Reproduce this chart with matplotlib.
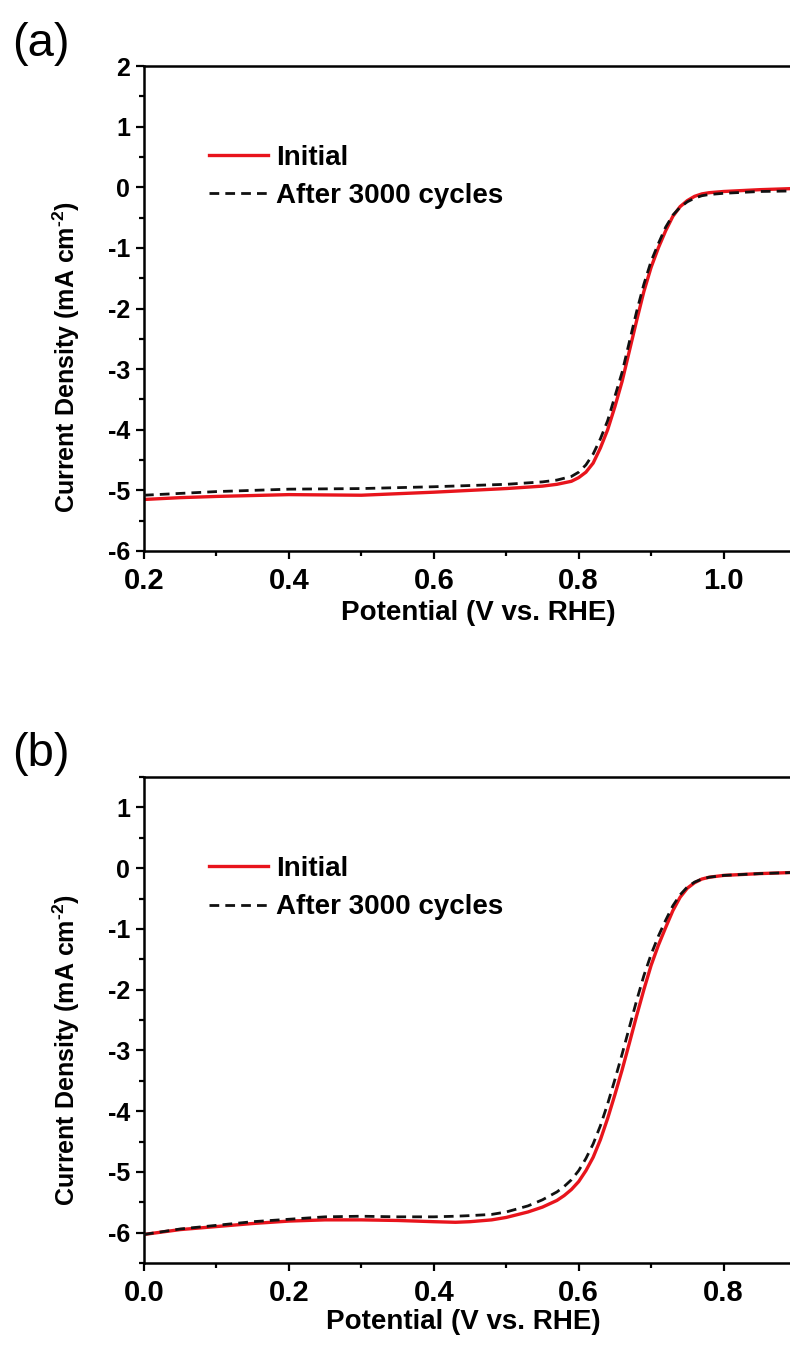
import numpy as np
import matplotlib
matplotlib.use('Agg')
import matplotlib.pyplot as plt
from matplotlib.ticker import MultipleLocator, FormatStrFormatter

plt.rcParams['font.family'] = ['Liberation Sans', 'DejaVu Sans']
plt.rcParams['font.weight'] = 'bold'
plt.rcParams['axes.unicode_minus'] = False
plt.rcParams['mathtext.fontset'] = 'custom'
plt.rcParams['mathtext.rm'] = 'Liberation Sans:bold'
plt.rcParams['mathtext.bf'] = 'Liberation Sans:bold'

# (a) potential (V vs. RHE) and current density (mA cm-2)
a_pot_init = [0.20, 0.25, 0.30, 0.40, 0.50, 0.60, 0.70, 0.75, 0.77, 0.79, 0.80, 0.81, 0.82,
              0.83, 0.84, 0.85, 0.86, 0.87, 0.88, 0.89, 0.90, 0.91, 0.92, 0.93, 0.94,
              0.95, 0.96, 0.97, 0.98, 1.00, 1.05, 1.10]
a_cur_init = [-5.15, -5.12, -5.10, -5.07, -5.08, -5.03, -4.97, -4.93, -4.90, -4.85, -4.79, -4.70, -4.55,
              -4.30, -4.00, -3.62, -3.20, -2.70, -2.20, -1.72, -1.32, -1.00, -0.72, -0.48, -0.32,
              -0.22, -0.15, -0.11, -0.09, -0.07, -0.04, -0.02]
a_pot_after = [0.20, 0.25, 0.30, 0.40, 0.50, 0.60, 0.70, 0.75, 0.77, 0.79, 0.80, 0.81, 0.82,
               0.83, 0.84, 0.85, 0.86, 0.87, 0.88, 0.89, 0.90, 0.91, 0.92, 0.93, 0.94,
               0.95, 0.96, 0.97, 0.98, 1.00, 1.05, 1.10]
a_cur_after = [-5.08, -5.05, -5.02, -4.98, -4.97, -4.94, -4.90, -4.86, -4.83, -4.77, -4.70, -4.58, -4.40,
               -4.15, -3.85, -3.45, -3.05, -2.55, -2.05, -1.60, -1.22, -0.93, -0.66, -0.46, -0.33,
               -0.24, -0.18, -0.14, -0.12, -0.10, -0.07, -0.06]

# (b)
b_pot_init = [0.00, 0.05, 0.10, 0.15, 0.20, 0.25, 0.30, 0.35, 0.40, 0.43, 0.45, 0.48, 0.50,
              0.53, 0.55, 0.57, 0.58, 0.59, 0.60, 0.61, 0.62, 0.63, 0.64, 0.65, 0.66, 0.67,
              0.68, 0.69, 0.70, 0.71, 0.72, 0.73, 0.74, 0.75, 0.76, 0.77, 0.78, 0.80, 0.85, 0.90]
b_cur_init = [-6.03, -5.95, -5.90, -5.85, -5.81, -5.79, -5.79, -5.80, -5.82, -5.83, -5.82, -5.79, -5.75,
              -5.66, -5.58, -5.47, -5.39, -5.29, -5.16, -4.98, -4.76, -4.47, -4.12, -3.73, -3.32, -2.88,
              -2.43, -2.00, -1.60, -1.27, -0.98, -0.70, -0.48, -0.33, -0.24, -0.18, -0.15, -0.12, -0.09, -0.07]
b_pot_after = [0.00, 0.05, 0.10, 0.15, 0.20, 0.25, 0.30, 0.35, 0.40, 0.43, 0.45, 0.48, 0.50,
               0.53, 0.55, 0.57, 0.58, 0.59, 0.60, 0.61, 0.62, 0.63, 0.64, 0.65, 0.66, 0.67,
               0.68, 0.69, 0.70, 0.71, 0.72, 0.73, 0.74, 0.75, 0.76, 0.77, 0.78, 0.80, 0.85, 0.90]
b_cur_after = [-6.03, -5.94, -5.88, -5.82, -5.78, -5.74, -5.73, -5.74, -5.74, -5.73, -5.72, -5.70, -5.66,
               -5.56, -5.46, -5.33, -5.24, -5.13, -4.98, -4.78, -4.54, -4.24, -3.88, -3.48, -3.06, -2.62,
               -2.18, -1.77, -1.42, -1.12, -0.86, -0.62, -0.44, -0.31, -0.23, -0.18, -0.15, -0.12, -0.09, -0.07]

labels = ['Initial', 'After 3000 cycles']

fig = plt.figure(figsize=(7.9, 13.58), dpi=100)

W, H = 790.0, 1358.0
panels = [
    dict(box=(144, 66, 796, 551), xlim=(0.2, 1.1), ylim=(-6, 2), tag='(a)', tag_y=22,
         init=(a_pot_init, a_cur_init), after=(a_pot_after, a_cur_after),
         ylab_y=0.40, xlab_x=0.512, xlab_y=-0.102),
    dict(box=(144, 777, 796, 1263), xlim=(0.0, 0.9), ylim=(-6.5, 1.5), tag='(b)', tag_y=732,
         init=(b_pot_init, b_cur_init), after=(b_pot_after, b_cur_after),
         ylab_y=0.438, xlab_x=0.49, xlab_y=-0.095),
]

for p in panels:
    l, t, r, b = p['box']
    ax = fig.add_axes([l / W, 1 - b / H, (r - l) / W, (b - t) / H])
    ax.plot(*p['init'], color='#e8141c', lw=2.4, label=labels[0], zorder=2)
    ax.plot(*p['after'], color='#111111', lw=2.0, ls=(0, (3.5, 2.2)), label=labels[1], zorder=3)
    ax.set_xlim(*p['xlim'])
    ax.set_ylim(*p['ylim'])
    ax.xaxis.set_major_locator(MultipleLocator(0.2))
    ax.xaxis.set_minor_locator(MultipleLocator(0.1))
    ax.xaxis.set_major_formatter(FormatStrFormatter('%.1f'))
    ax.yaxis.set_major_locator(MultipleLocator(1))
    ax.yaxis.set_minor_locator(MultipleLocator(0.5))
    for s in ax.spines.values():
        s.set_linewidth(1.8)
    ax.tick_params(which='major', direction='out', length=6, width=1.6)
    ax.tick_params(which='minor', direction='out', length=3.5, width=1.6)
    ax.tick_params(axis='x', labelsize=21, pad=5.5)
    ax.tick_params(axis='y', labelsize=18, pad=4)
    ax.set_xlabel('Potential (V vs. RHE)', fontsize=20, fontweight='bold')
    ax.set_ylabel('Current Density (mA cm$^{\\text{-2}}$)', fontsize=18, fontweight='bold')
    ax.yaxis.set_label_coords(-0.095, p['ylab_y'])
    ax.xaxis.set_label_coords(p['xlab_x'], p['xlab_y'])
    ax.legend(loc='upper left', bbox_to_anchor=(0.1, 0.838), frameon=False, fontsize=20,
              handlelength=2.1, handletextpad=0.3, labelspacing=0.45, borderpad=0,
              borderaxespad=0)
    fig.text(12 / W, 1 - p['tag_y'] / H, p['tag'], fontsize=34, fontweight='normal',
             ha='left', va='top')

fig.savefig('out.png', dpi=100)
